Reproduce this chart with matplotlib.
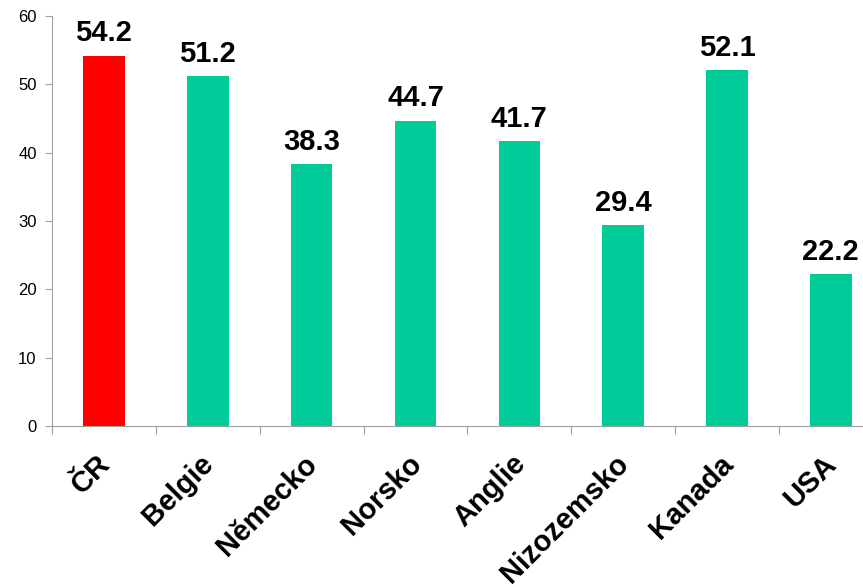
import matplotlib.pyplot as plt
import numpy as np

plt.rcParams['font.family'] = ['Liberation Sans', 'DejaVu Sans']

countries = ["ČR", "Belgie", "Německo", "Norsko", "Anglie", "Nizozemsko", "Kanada", "USA"]
values = [54.2, 51.2, 38.3, 44.7, 41.7, 29.4, 52.1, 22.2]
colors = ["#FF0000"] + ["#00CC99"] * 7

fig = plt.figure(figsize=(8.63, 5.87), dpi=100)
ax = fig.add_axes([52 / 863, 1 - 426 / 587, 1 - 52 / 863, 410 / 587])

x = np.arange(len(countries))
ax.bar(x, values, width=0.4, color=colors)

for xi, v in zip(x, values):
    ax.text(xi, v + 1.2, f"{v:.1f}", ha="center", va="bottom",
            fontsize=21, fontweight="bold")

ax.set_xlim(-0.5, 7.31)
ax.set_ylim(0, 60)
ax.set_yticks(range(0, 61, 10))
ax.tick_params(axis="y", labelsize=12, length=5, color="#A0A0A0", pad=6)

# boundaries between categories carry the tick marks
ax.set_xticks(np.arange(-0.5, 7.5, 1.0))
ax.set_xticklabels([])
ax.tick_params(axis="x", length=6, color="#A0A0A0")
for xi, name in zip(x, countries):
    ax.annotate(name, xy=(xi, 0), xycoords=("data", "axes fraction"),
                xytext=(-6, -17), textcoords="offset points",
                rotation=45, rotation_mode="anchor", ha="right", va="top",
                fontsize=21, fontweight="bold")

for side in ["top", "right"]:
    ax.spines[side].set_visible(False)
for side in ["left", "bottom"]:
    ax.spines[side].set_color("#A0A0A0")

fig.savefig("out.png", dpi=100)
